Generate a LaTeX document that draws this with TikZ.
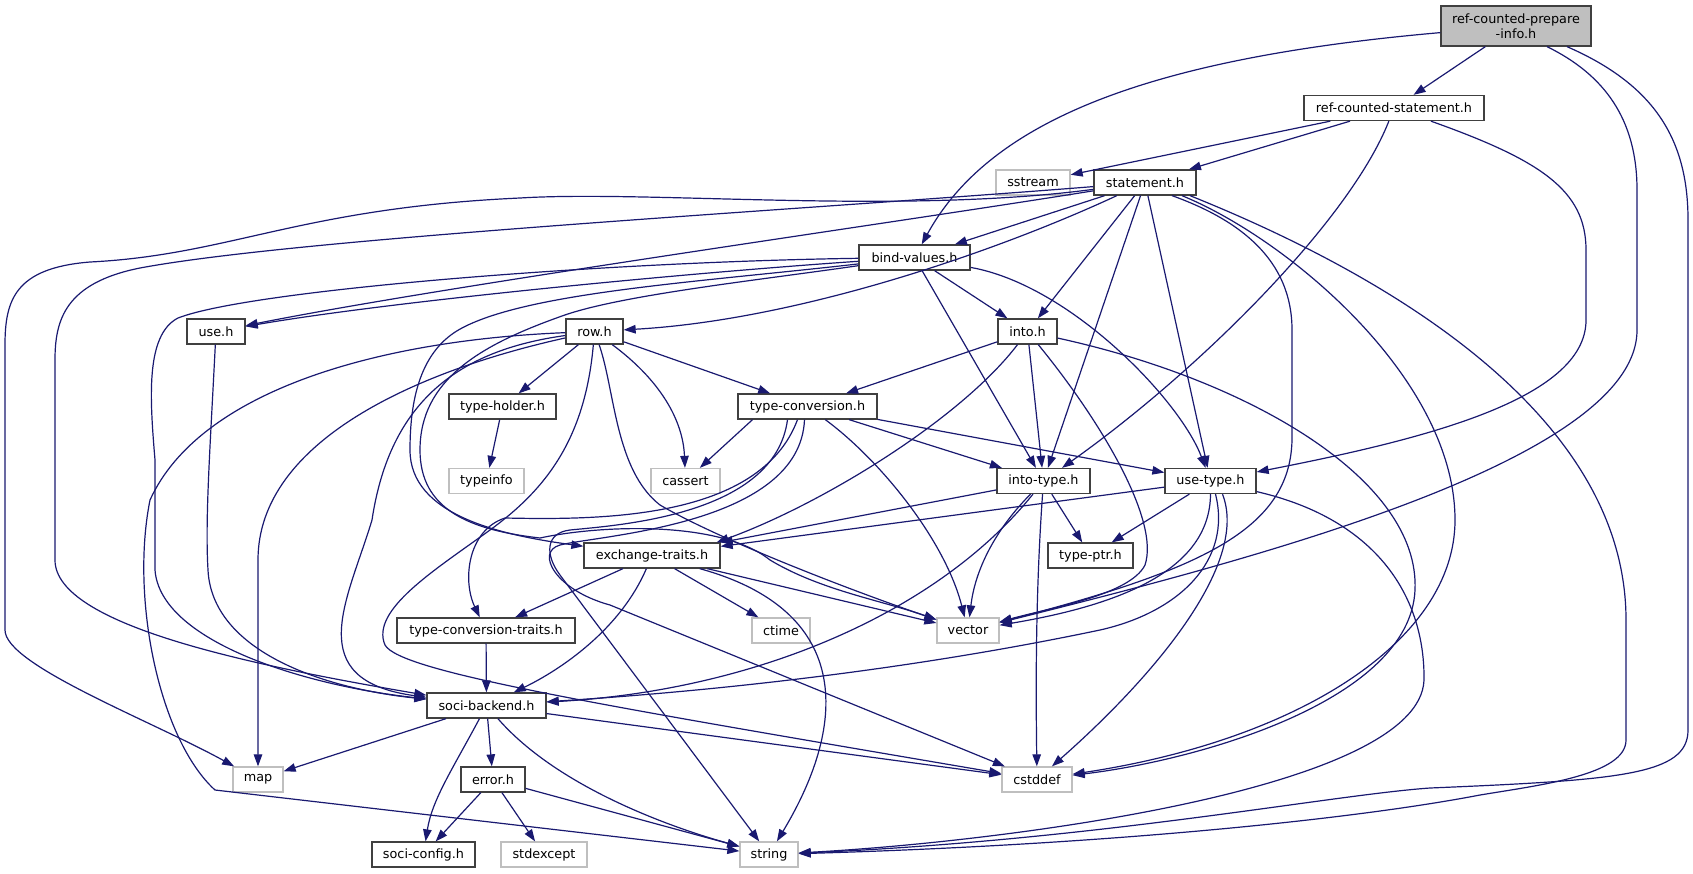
\documentclass[tikz,border=0pt]{standalone}
\usepackage{fontspec}
\setmainfont{DejaVu Sans}
\usetikzlibrary{arrows.meta}
\definecolor{edgeblue}{HTML}{191970}
\definecolor{boxgray}{HTML}{404040}
\definecolor{sysgray}{HTML}{BFBFBF}
\begin{document}
\begin{tikzpicture}[x=1pt,y=-1pt,
  base/.style={font=\fontsize{12.8}{15}\selectfont, inner sep=0pt, minimum height=25pt, anchor=center, text=black},
  hdr/.style={base, draw=boxgray, line width=1.3pt, fill=white},
  sys/.style={base, draw=sysgray, line width=1.3pt, fill=white},
  dep/.style={draw=edgeblue, line width=1.2pt, -{Triangle[length=12pt,width=8.5pt]}}
]
\useasboundingbox (0,0) rectangle (1693,873);

% nodes
\node[hdr, fill=sysgray, minimum width=150pt, minimum height=40pt, align=center] (prep) at (1516,26) {ref-counted-prepare\\-info.h};
\node[hdr, minimum width=180pt] (rcs) at (1394,108) {ref-counted-statement.h};
\node[sys, minimum width=74pt] (sstream) at (1033,182.5) {sstream};
\node[hdr, minimum width=102pt] (stmt) at (1145,182.5) {statement.h};
\node[hdr, minimum width=111pt] (bind) at (914.5,257.5) {bind-values.h};
\node[hdr, minimum width=58pt] (use) at (216,331.5) {use.h};
\node[hdr, minimum width=57pt] (row) at (594.5,331.5) {row.h};
\node[hdr, minimum width=59pt] (into) at (1027.5,331.5) {into.h};
\node[hdr, minimum width=107pt] (th) at (502.5,406.5) {type-holder.h};
\node[hdr, minimum width=139pt] (tc) at (807.5,406.5) {type-conversion.h};
\node[sys, minimum width=75pt] (ti) at (486.5,481) {typeinfo};
\node[sys, minimum width=69pt] (cassert) at (685.5,481) {cassert};
\node[hdr, minimum width=93pt] (it) at (1043.5,481) {into-type.h};
\node[hdr, minimum width=91pt] (ut) at (1210.5,481) {use-type.h};
\node[hdr, minimum width=136pt] (exch) at (652,555.5) {exchange-traits.h};
\node[hdr, minimum width=85pt] (tp) at (1090.5,555.5) {type-ptr.h};
\node[hdr, minimum width=178pt] (tct) at (486,630.5) {type-conversion-traits.h};
\node[sys, minimum width=58pt] (ctime) at (781,630.5) {ctime};
\node[sys, minimum width=62pt] (vector) at (968,630.5) {vector};
\node[hdr, minimum width=119pt] (backend) at (486.5,705.5) {soci-backend.h};
\node[sys, minimum width=50pt] (map) at (258,779.5) {map};
\node[hdr, minimum width=64pt] (error) at (493,779.5) {error.h};
\node[sys, minimum width=70pt] (cstddef) at (1037,779.5) {cstddef};
\node[hdr, minimum width=103pt] (config) at (423.5,854.5) {soci-config.h};
\node[sys, minimum width=86pt] (stdexcept) at (544,854.5) {stdexcept};
\node[sys, minimum width=58pt] (string) at (769,854.5) {string};

% ref-counted-prepare-info.h
\draw[dep] (prep) -- (rcs);
\draw[dep] (prep) .. controls (1150,58) and (990,120) .. (bind);
\draw[dep] ([xshift=31pt]prep.south) .. controls (1605,75) and (1637,120) .. (1637,190) -- (1637,330) .. controls (1637,460) and (1250,560) .. (vector);
\draw[dep] ([xshift=51pt]prep.south) .. controls (1655,85) and (1688,140) .. (1688,220) -- (1688,730) .. controls (1688,775) and (1620,780) .. (1430,788) .. controls (1330,795) and (1100,840) .. (string);

% ref-counted-statement.h
\draw[dep] (rcs) -- (sstream);
\draw[dep] (rcs) -- (stmt);
\draw[dep] (rcs) .. controls (1350,220) and (1200,370) .. (it);
\draw[dep] (rcs) .. controls (1540,160) and (1586,190) .. (1586,250) -- (1586,320) .. controls (1586,400) and (1420,440) .. (ut);

% statement.h
\draw[dep] (stmt) -- (bind);
\draw[dep] (stmt) -- (into);
\draw[dep] (stmt) -- (it);
\draw[dep] (stmt) -- (ut);
\draw[dep] (stmt) .. controls (1000,250) and (800,320) .. (row);
\draw[dep] (stmt) .. controls (900,222) and (450,285) .. (use);
\draw[dep] (stmt) .. controls (900,215) and (650,190) .. (520,198) .. controls (300,208) and (230,255) .. (90,262) .. controls (15,268) and (5,300) .. (5,345) -- (5,630) .. controls (5,665) and (150,720) .. (map);
\draw[dep] (stmt) .. controls (800,210) and (300,238) .. (140,268) .. controls (65,283) and (55,320) .. (55,360) -- (55,560) .. controls (55,625) and (250,665) .. (backend);
\draw[dep] ([xshift=27pt]stmt.south) .. controls (1240,220) and (1292,260) .. (1292,330) -- (1292,440) .. controls (1290,530) and (1200,570) .. (vector);
\draw[dep] ([xshift=37pt]stmt.south) .. controls (1290,240) and (1455,380) .. (1455,520) .. controls (1455,640) and (1300,740) .. (cstddef);
\draw[dep] ([xshift=45pt]stmt.south) .. controls (1400,280) and (1626,420) .. (1626,620) -- (1626,740) .. controls (1626,775) and (1540,785) .. (1480,795) .. controls (1350,820) and (1100,845) .. (string);

% bind-values.h
\draw[dep] (bind) -- (into);
\draw[dep] (bind) -- (it);
\draw[dep] (bind) .. controls (1070,285) and (1180,400) .. (ut);
\draw[dep] (bind) .. controls (700,272) and (400,300) .. (use);
\draw[dep] (bind) .. controls (600,262) and (250,290) .. (178,318) .. controls (145,335) and (150,400) .. (155,460) -- (155,570) .. controls (160,640) and (300,685) .. (backend);
\draw[dep] (bind) .. controls (700,282) and (530,292) .. (462,328) .. controls (420,350) and (410,400) .. (410,450) .. controls (410,515) and (500,535) .. (exch);
\draw[dep] (bind) .. controls (760,280) and (620,295) .. (562,316) .. controls (480,345) and (420,380) .. (420,450) .. controls (420,510) and (470,530) .. (540,538) .. controls (600,525) and (720,520) .. (770,560) .. controls (820,590) and (880,600) .. (vector);

% use.h
\draw[dep] (use) .. controls (210,450) and (205,520) .. (208,570) .. controls (212,650) and (320,688) .. (backend);

% row.h
\draw[dep] (row) -- (th);
\draw[dep] (row) -- (tc);
\draw[dep] (row) .. controls (660,380) and (683,420) .. (cassert);
\draw[dep] (row) .. controls (615,390) and (615,470) .. (660,505) .. controls (720,540) and (850,590) .. (vector);
\draw[dep] (row) .. controls (420,370) and (258,440) .. (258,560) -- (map);
\draw[dep] (row) .. controls (380,340) and (200,390) .. (150,500) .. controls (130,600) and (160,740) .. (215,790) -- (string);
\draw[dep] (row) .. controls (460,350) and (390,400) .. (372,520) .. controls (348,600) and (300,680) .. (backend);
\draw[dep] (row) .. controls (585,440) and (545,490) .. (490,530) .. controls (435,570) and (370,610) .. (385,645) .. controls (400,672) and (600,705) .. (cstddef);

% into.h
\draw[dep] (into) -- (tc);
\draw[dep] (into) -- (it);
\draw[dep] (into) .. controls (960,420) and (820,505) .. ([xshift=-4pt]exch.north east);
\draw[dep] (into) .. controls (1100,420) and (1160,520) .. (1145,565) .. controls (1130,595) and (1050,608) .. (vector);
\draw[dep] (into) .. controls (1250,380) and (1420,480) .. (1415,590) .. controls (1410,700) and (1200,760) .. (cstddef);

% type-holder.h
\draw[dep] (th) -- (ti);

% type-conversion.h
\draw[dep] ([xshift=-55pt]tc.south) -- (cassert);
\draw[dep] (tc) -- (it);
\draw[dep] (tc) -- (ut);
\draw[dep] (tc) .. controls (880,460) and (945,540) .. (vector);
\draw[dep] ([xshift=-10pt]tc.south) .. controls (760,520) and (600,520) .. (505,518) .. controls (468,530) and (462,580) .. (tct);
\draw[dep] ([xshift=-20pt]tc.south) .. controls (775,515) and (620,525) .. (570,530) .. controls (545,533) and (545,555) .. (560,575) -- (string);
\draw[dep] ([xshift=-3pt]tc.south) .. controls (800,525) and (600,535) .. (560,545) .. controls (535,552) and (555,590) .. (610,605) -- (cstddef);

% into-type.h
\draw[dep] (it) -- (exch);
\draw[dep] (it) -- (tp);
\draw[dep] (it) .. controls (995,530) and (975,570) .. (vector);
\draw[dep] (it) .. controls (1035,600) and (1036,700) .. (cstddef);
\draw[dep] (it) .. controls (940,610) and (760,690) .. (backend);

% use-type.h
\draw[dep] (ut) -- (exch);
\draw[dep] (ut) -- (tp);
\draw[dep] (ut.south) .. controls (1210,570) and (1120,605) .. (vector);
\draw[dep] ([xshift=5pt]ut.south) .. controls (1232,560) and (1180,612) .. (1100,630) .. controls (900,672) and (700,692) .. (backend);
\draw[dep] ([xshift=12pt]ut.south) .. controls (1250,565) and (1150,680) .. (cstddef);
\draw[dep] (ut) .. controls (1380,520) and (1425,600) .. (1424,680) .. controls (1420,790) and (1000,842) .. (string);

% exchange-traits.h
\draw[dep] (exch) -- (tct);
\draw[dep] (exch) .. controls (620,630) and (560,670) .. (backend);
\draw[dep] (exch) -- (ctime);
\draw[dep] (exch) -- (vector);
\draw[dep] (exch) .. controls (850,610) and (850,720) .. (string);

% type-conversion-traits.h
\draw[dep] (tct) -- (backend);

% soci-backend.h
\draw[dep] (backend) -- (map);
\draw[dep] (backend) -- (error);
\draw[dep] (backend) .. controls (452,770) and (432,800) .. (config);
\draw[dep] (backend) .. controls (560,790) and (680,830) .. (string);
\draw[dep] (backend) -- (cstddef);

% error.h
\draw[dep] (error) -- (config);
\draw[dep] (error) -- (stdexcept);
\draw[dep] (error) -- (string);
\end{tikzpicture}
\end{document}
